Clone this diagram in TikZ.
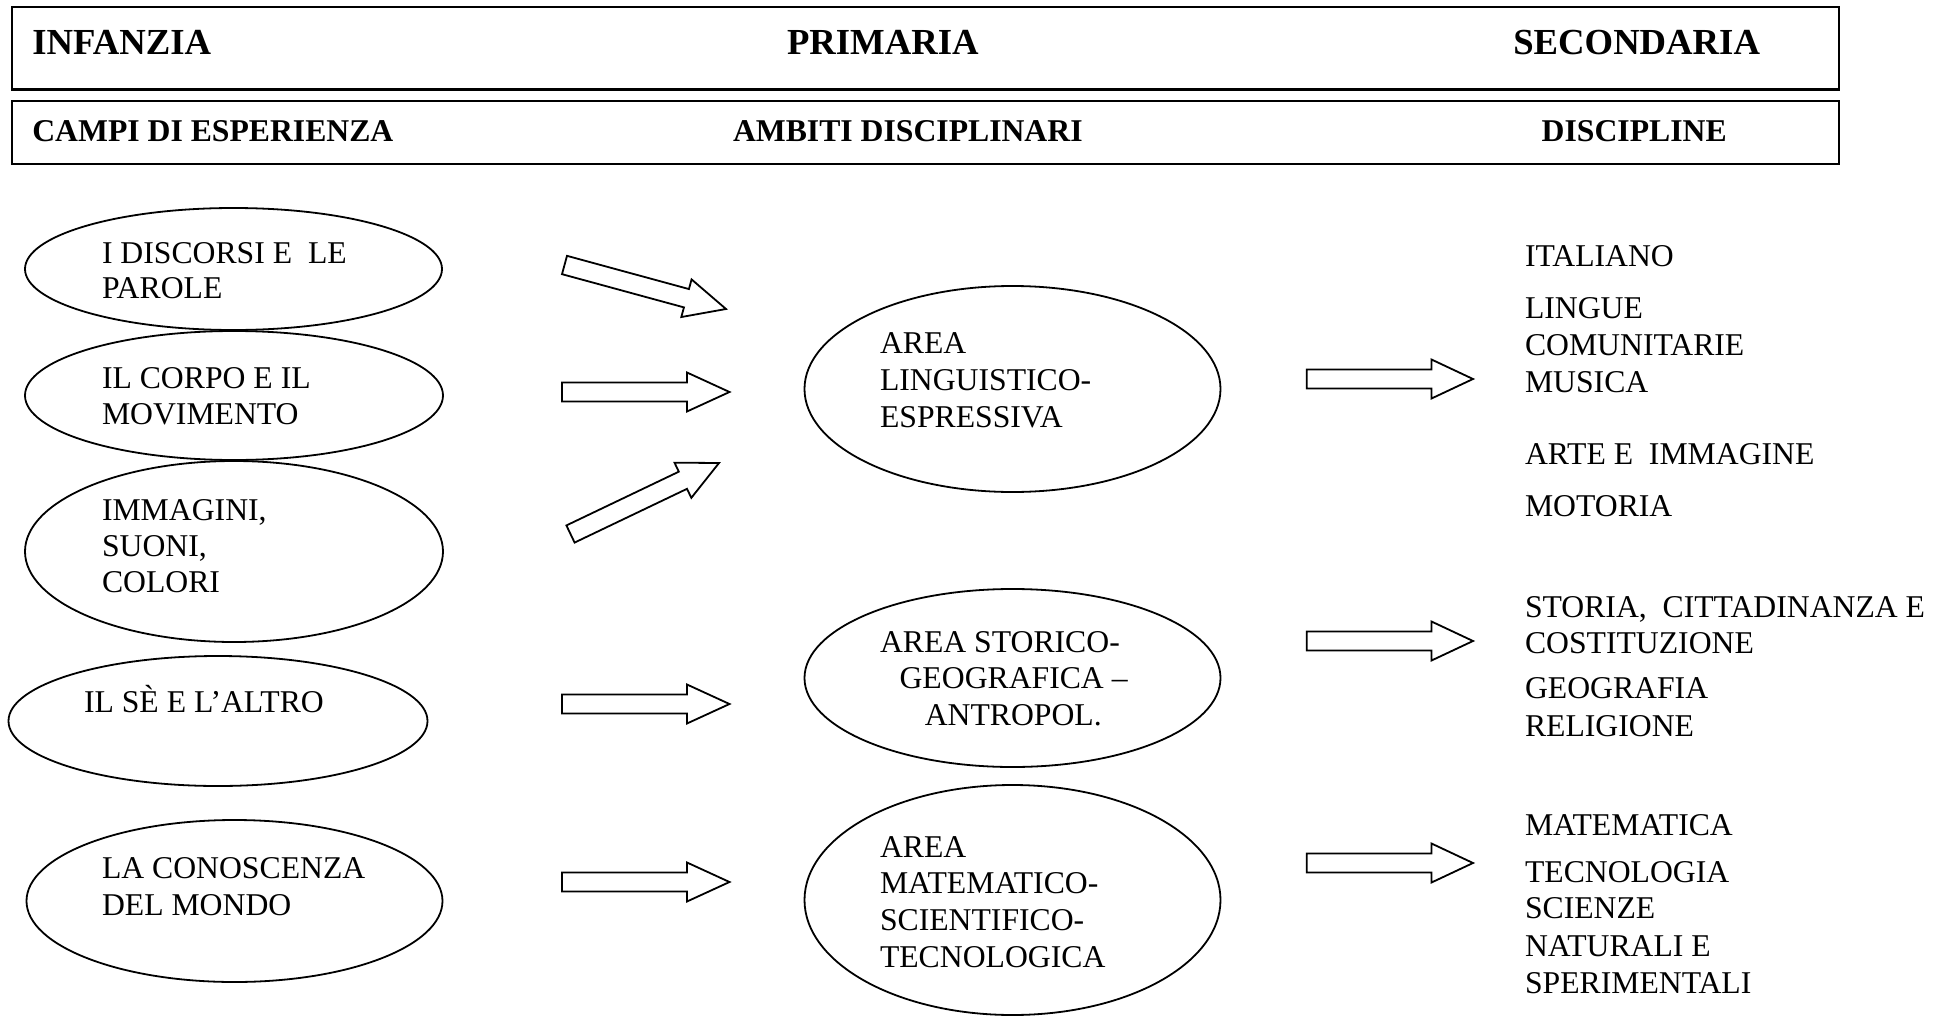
\documentclass[tikz,border=0pt]{standalone}
\usepackage{fontspec}
\setmainfont{Liberation Serif}
\usetikzlibrary{shapes.geometric,calc}
\tikzset{
  ell/.style={draw, ellipse, line width=1.8pt, inner sep=0pt},
  hdrbox/.style={draw, line width=2.4pt, rectangle, inner sep=0pt, anchor=north west},
  txt/.style={inner sep=0pt, outer sep=0pt, anchor=base west, font=\fontsize{31.7}{36}\selectfont},
  hdrA/.style={inner sep=0pt, outer sep=0pt, anchor=base west, font=\fontsize{36.7}{40}\selectfont\bfseries},
  hdrB/.style={inner sep=0pt, outer sep=0pt, anchor=base west, font=\fontsize{31.7}{36}\selectfont\bfseries},
  blk/.style={draw, line width=1.8pt, fill=white, line join=miter},
}
\newcommand\blockarrow[3]{%
  \path ($(#2)!#3!(#1)$) coordinate (#1-h);
  \draw[blk] ($(#1)!9.5pt!90:(#2)$) -- ($(#1-h)!9.5pt!90:(#2)$) -- ($(#1-h)!19.5pt!90:(#2)$) -- (#2) -- ($(#1-h)!19.5pt!-90:(#2)$) -- ($(#1-h)!9.5pt!-90:(#2)$) -- ($(#1)!9.5pt!-90:(#2)$) -- cycle;}
\begin{document}
\begin{tikzpicture}[x=1pt,y=-1pt]
\useasboundingbox (0,0) rectangle (1955,1017);
% header boxes
\node[hdrbox, minimum width=1826.7pt, minimum height=82.3pt] (row1) at (11,6) {};
\node[hdrbox, minimum width=1826.7pt, minimum height=62.7pt] (row2) at (11,100) {};
\node[hdrA] (infanzia) at (32.3,54) {INFANZIA};
\node[hdrA] (primaria) at (787,54) {PRIMARIA};
\node[hdrA] (secondaria) at (1513.3,54) {SECONDARIA};
\node[hdrB] (campi) at (32.3,141.7) {CAMPI DI ESPERIENZA};
\node[hdrB] (ambiti) at (733,141.7) {AMBITI DISCIPLINARI};
\node[hdrB] (discipline) at (1541.7,141.7) {DISCIPLINE};
% ellipses
\node[ell, minimum width=417pt, minimum height=122pt] (e1) at (233.5,269) {};
\node[ell, minimum width=418pt, minimum height=129pt] (e2) at (234,395.5) {};
\node[ell, minimum width=418pt, minimum height=181pt] (e3) at (234,551.5) {};
\node[ell, minimum width=419pt, minimum height=130pt] (e4) at (218,721) {};
\node[ell, minimum width=416pt, minimum height=162pt] (e5) at (234.5,901) {};
\node[ell, minimum width=416pt, minimum height=206pt] (e6) at (1012.5,389) {};
\node[ell, minimum width=416pt, minimum height=178pt] (e7) at (1012.5,678) {};
\node[ell, minimum width=416pt, minimum height=230pt] (e8) at (1012.5,900) {};
% ellipse texts
\node[txt] (e1a) at (102,263) {I DISCORSI E\ \ LE};
\node[txt] (e1b) at (102,298) {PAROLE};
\node[txt] (e2a) at (102,388) {IL CORPO E IL};
\node[txt] (e2b) at (102,424) {MOVIMENTO};
\node[txt] (e3a) at (102,520) {IMMAGINI,};
\node[txt] (e3b) at (102,556) {SUONI,};
\node[txt] (e3c) at (102,592) {COLORI};
\node[txt] (e4a) at (84,712) {IL SÈ E L’ALTRO};
\node[txt] (e5a) at (102,878) {LA CONOSCENZA};
\node[txt] (e5b) at (102,915) {DEL MONDO};
\node[txt] (e6a) at (880,353) {AREA};
\node[txt] (e6b) at (880,390) {LINGUISTICO-};
\node[txt] (e6c) at (880,427) {ESPRESSIVA};
\node[txt] (e7a) at (880,652) {AREA STORICO-};
\node[txt] (e7b) at (899.6,688) {GEOGRAFICA –};
\node[txt] (e7c) at (924.8,725) {ANTROPOL.};
\node[txt] (e8a) at (880,857) {AREA};
\node[txt] (e8b) at (880,893) {MATEMATICO-};
\node[txt] (e8c) at (880,930) {SCIENTIFICO-};
\node[txt] (e8d) at (880,967) {TECNOLOGICA};
% right column
\node[txt] (d1) at (1525,266) {ITALIANO};
\node[txt] (d2) at (1525,318) {LINGUE};
\node[txt] (d3) at (1525,355) {COMUNITARIE};
\node[txt] (d4) at (1525,392) {MUSICA};
\node[txt] (d5) at (1525,464) {ARTE E\ \ IMMAGINE};
\node[txt] (d6) at (1525,516) {MOTORIA};
\node[txt] (d7) at (1525,617) {STORIA,\ \ CITTADINANZA E};
\node[txt] (d8) at (1525,653) {COSTITUZIONE};
\node[txt] (d9) at (1525,698) {GEOGRAFIA};
\node[txt] (d10) at (1525,736) {RELIGIONE};
\node[txt] (d11) at (1525,835) {MATEMATICA};
\node[txt] (d12) at (1525,882) {TECNOLOGIA};
\node[txt] (d13) at (1525,918.5) {SCIENZE};
\node[txt] (d14) at (1525,956) {NATURALI E};
\node[txt] (d15) at (1525,993) {SPERIMENTALI};
% block arrows
\coordinate (a1s) at (564.5,265);  \coordinate (a1e) at (726,309);
\coordinate (a2s) at (562,392);    \coordinate (a2e) at (729.5,392);
\coordinate (a3s) at (570.5,534);  \coordinate (a3e) at (719,463);
\coordinate (a4s) at (562,704);    \coordinate (a4e) at (729.5,704);
\coordinate (a5s) at (562,882);    \coordinate (a5e) at (729.5,882);
\coordinate (a6s) at (1306.8,379); \coordinate (a6e) at (1473,379);
\coordinate (a7s) at (1306.8,641); \coordinate (a7e) at (1473,641);
\coordinate (a8s) at (1306.8,863); \coordinate (a8e) at (1473,863);
\blockarrow{a1s}{a1e}{41pt}
\blockarrow{a2s}{a2e}{42.5pt}
\blockarrow{a3s}{a3e}{40pt}
\blockarrow{a4s}{a4e}{42.5pt}
\blockarrow{a5s}{a5e}{42.5pt}
\blockarrow{a6s}{a6e}{41.5pt}
\blockarrow{a7s}{a7e}{41.5pt}
\blockarrow{a8s}{a8e}{41.5pt}
\end{tikzpicture}
\end{document}
